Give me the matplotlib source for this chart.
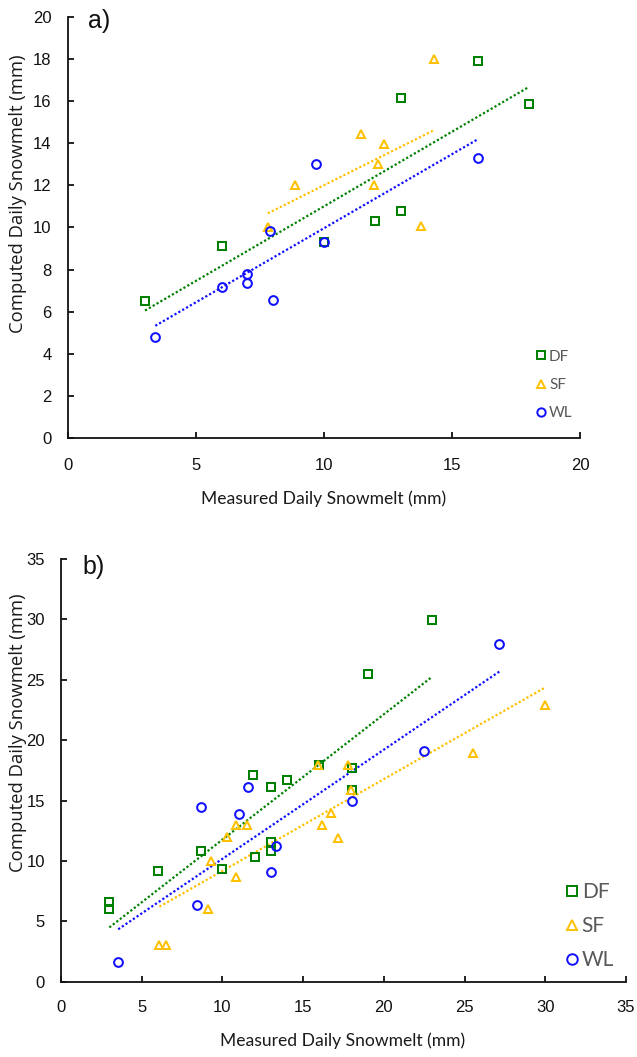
import matplotlib
matplotlib.use('Agg')
import matplotlib.pyplot as plt
import numpy as np
from matplotlib.lines import Line2D
from matplotlib import font_manager as fm

# ---------------- data ----------------
series = ['DF', 'SF', 'WL']

# panel a)
a_df_x = [3, 6, 10, 12, 13, 13, 16, 18]
a_df_y = [6.5, 9.1, 9.3, 10.3, 10.8, 16.15, 17.9, 15.85]
a_sf_x = [7.8, 8.85, 11.45, 11.95, 12.1, 12.35, 13.8, 14.3]
a_sf_y = [10.0, 12.0, 14.45, 12.0, 13.0, 13.95, 10.05, 18.0]
a_wl_x = [3.4, 6.0, 7.0, 7.0, 7.9, 8.0, 9.7, 10.0, 16.0]
a_wl_y = [4.8, 7.2, 7.8, 7.35, 9.85, 6.55, 13.0, 9.3, 13.3]
a_trend_slope = [0.707, 0.607, 0.702]
a_trend_intercept = [3.94, 5.94, 2.95]

# panel b)
b_df_x = [3, 3, 6, 8.7, 10, 12, 11.9, 13, 13, 13, 14, 16, 18, 18.05, 19, 23]
b_df_y = [6.6, 6.05, 9.15, 10.85, 9.3, 10.3, 17.1, 10.8, 11.55, 16.15, 16.7, 17.95, 15.85, 17.7, 25.5, 29.95]
b_sf_x = [6.1, 6.5, 9.1, 9.3, 10.3, 10.85, 10.85, 11.5, 15.95, 16.2, 16.7, 17.15, 17.8, 17.95, 25.5, 30.0]
b_sf_y = [3.0, 3.0, 6.0, 10.0, 11.95, 8.7, 12.95, 12.95, 17.95, 12.95, 13.95, 11.9, 17.95, 15.9, 18.95, 22.9]
b_wl_x = [3.55, 8.45, 8.7, 11.0, 11.6, 13.0, 13.3, 18.0, 22.5, 27.15]
b_wl_y = [1.6, 6.35, 14.5, 13.9, 16.1, 9.1, 11.2, 14.95, 19.1, 28.0]
b_trend_slope = [1.038, 0.7595, 0.904]
b_trend_intercept = [1.38, 1.58, 1.13]

a_xticks = [0, 5, 10, 15, 20]
a_yticks = [0, 2, 4, 6, 8, 10, 12, 14, 16, 18, 20]
b_xticks = [0, 5, 10, 15, 20, 25, 30, 35]
b_yticks = [0, 5, 10, 15, 20, 25, 30, 35]

xlabel = 'Measured Daily Snowmelt (mm)'
ylabel = 'Computed Daily Snowmelt (mm)'

# ---------------- style ----------------
colors = {'DF': '#008000', 'SF': '#FFC000', 'WL': '#1010FF'}
markers = {'DF': 's', 'SF': '^', 'WL': 'o'}

names = {f.name for f in fm.fontManager.ttflist}
narrow = 'Liberation Sans Narrow' if 'Liberation Sans Narrow' in names else 'Liberation Sans'
tick_fs = 14 if narrow == 'Liberation Sans Narrow' else 12
labfont = 'Lato' if 'Lato' in names else 'DejaVu Sans'
yfont = 'Open Sans' if 'Open Sans' in names else labfont
arial = 'Liberation Sans' if 'Liberation Sans' in names else 'DejaVu Sans'

W, H = 637, 1057
fig = plt.figure(figsize=(W / 100, H / 100), dpi=100)


def axrect(l, r, t, b):
    return [l / W, 1 - b / H, (r - l) / W, (b - t) / H]


ax1 = fig.add_axes(axrect(68.3, 580, 16.7, 438.3))
ax2 = fig.add_axes(axrect(60.9, 626, 559, 981.7))


def style(ax, xt, yt, xpad, ypad):
    for s in ['top', 'right']:
        ax.spines[s].set_visible(False)
    for s in ['left', 'bottom']:
        ax.spines[s].set_linewidth(1.3)
        ax.spines[s].set_color('#111111')
    ax.set_xlim(xt[0], xt[-1])
    ax.set_ylim(yt[0], yt[-1])
    ax.set_xticks(xt)
    ax.set_yticks(yt)
    ax.tick_params(direction='in', length=4, width=1.3, labelsize=tick_fs,
                   labelfontfamily=narrow, labelcolor='#111111', color='#111111')
    ax.tick_params(axis='x', pad=xpad)
    ax.tick_params(axis='y', pad=ypad)
    ax.patch.set_alpha(0)


style(ax1, a_xticks, a_yticks, 14, 12)
style(ax2, b_xticks, b_yticks, 13, 11.5)

dots = (0, (1, 1))


def draw(ax, data, slopes, inters, ms, mew):
    for (name, x, y), m, c in zip(data, slopes, inters):
        col = colors[name]
        xs = np.array([min(x), max(x)])
        ax.plot(xs, m * xs + c, color=col, lw=1.6, linestyle=dots, zorder=2)
    for name, x, y in data:
        col = colors[name]
        ax.plot(x, y, ls='none', marker=markers[name], ms=ms, mfc='none',
                mec=col, mew=mew, zorder=3, clip_on=False)


draw(ax1, [('DF', a_df_x, a_df_y), ('SF', a_sf_x, a_sf_y), ('WL', a_wl_x, a_wl_y)],
     a_trend_slope, a_trend_intercept, 6.3, 1.45)
draw(ax2, [('DF', b_df_x, b_df_y), ('SF', b_sf_x, b_sf_y), ('WL', b_wl_x, b_wl_y)],
     b_trend_slope, b_trend_intercept, 6.3, 1.45)


def px2ax(ax, px, py):
    inv = ax.transAxes.inverted()
    return inv.transform((px, H - py))


def legend(ax, cx, cy, fs, ms, hl, pad, spacing):
    handles = [Line2D([], [], ls='none', marker=markers[s], ms=ms, mfc='none',
                      mec=colors[s], mew=1.4) for s in series]
    fpx = fs * 100 / 72
    left = cx - hl * fpx / 2
    anchor = px2ax(ax, left, cy)
    leg = ax.legend(handles, series, loc='center left', bbox_to_anchor=tuple(anchor),
                    frameon=False, handlelength=hl, handletextpad=pad,
                    labelspacing=spacing, borderpad=0, borderaxespad=0,
                    prop={'family': labfont, 'size': fs})
    for t in leg.get_texts():
        t.set_color('#595959')
    return leg


legend(ax1, 540.7, 385, 11, 6, 0.8, 0.15, 0.94)
legend(ax2, 571.7, 926, 15, 7.6, 0.6, 0.18, 0.68)

# axis titles
xtexts = []
for (cx, cy) in [(324, 499), (342.5, 1041)]:
    t = fig.text(cx / W, 1 - cy / H, xlabel, ha='center', va='center',
                 family=labfont, fontsize=13, color='#1a1a1a')
    xtexts.append(t)

fig.canvas.draw()
r = fig.canvas.get_renderer()
for t in xtexts:
    for _ in range(3):
        bb = t.get_window_extent(r)
        t.set_fontsize(t.get_fontsize() * 245 / bb.width)

for cy in [194, 733]:
    fig.text(18.5 / W, 1 - cy / H, ylabel, rotation=90, ha='center', va='center',
             family=yfont, fontsize=13.3, color='#1a1a1a')

# panel labels
fig.text(88 / W, 1 - 21 / H, 'a)', ha='left', va='center', family=arial, fontsize=18, color='#111111')
fig.text(82 / W, 1 - 567 / H, 'b)', ha='left', va='center', family=arial, fontsize=18, color='#111111')

fig.savefig('out.png', dpi=100)
